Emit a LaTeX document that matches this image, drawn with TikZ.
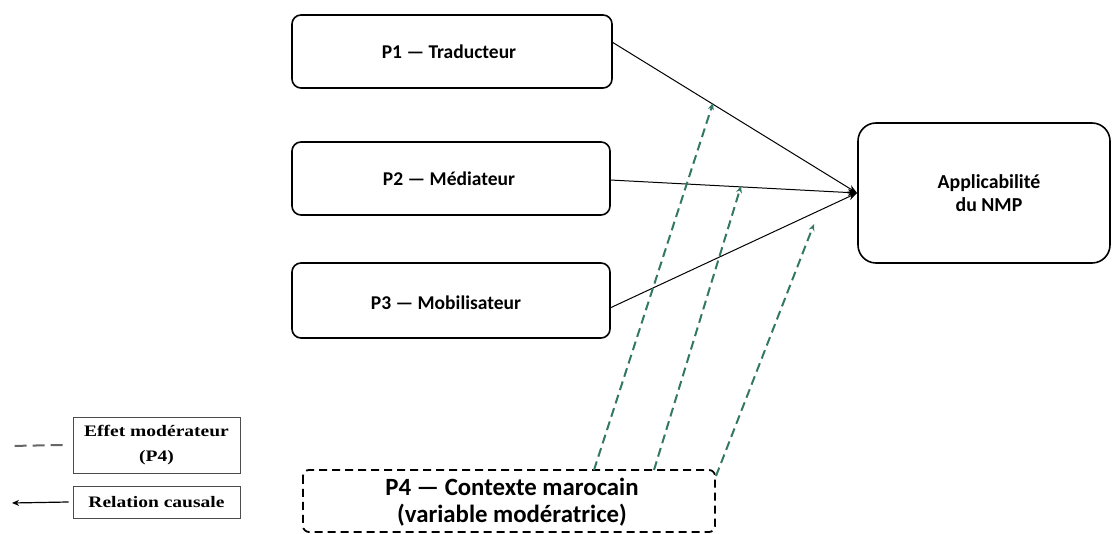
\documentclass[tikz,border=0pt]{standalone}
\usepackage{fontspec}
\setmainfont{Carlito}
\newfontfamily\legfont[FakeStretch=1.22]{Liberation Serif}
\usetikzlibrary{arrows.meta}
\definecolor{modgreen}{RGB}{50,120,100}
\begin{document}
\begin{tikzpicture}[x=1pt,y=1pt,
  box/.style={draw=black, line width=1.6pt, rounded corners=9pt, fill=white},
  boxtext/.style={font=\bfseries\fontsize{19.5}{22}\selectfont, align=center},
  legbox/.style={draw=black!70, line width=0.8pt, fill=white, font=\legfont\bfseries\fontsize{16}{25}\selectfont, align=center},
  causal/.style={draw=black, line width=1pt, -{Stealth[length=9pt,width=7pt]}},
  moder/.style={draw=modgreen, line width=2pt, dash pattern=on 9pt off 5pt, -{Stealth[length=7pt,width=6pt]}}
]
\useasboundingbox (0,0) rectangle (1112,-534);
\path[box] (292,-15) rectangle (612,-88);
\node[boxtext] (p1) at (449,-52) {P1 — Traducteur};
\coordinate (p1e) at (612,-42);
\path[box] (292,-142) rectangle (610,-215);
\node[boxtext] (p2) at (449,-179) {P2 — Médiateur};
\coordinate (p2e) at (610,-180);
\path[box] (292,-263) rectangle (610,-338);
\node[boxtext] (p3) at (446,-303) {P3 — Mobilisateur};
\coordinate (p3e) at (610,-308);
\path[box, rounded corners=18pt] (858,-123) rectangle (1110,-263);
\node[font=\bfseries\fontsize{19.8}{23}\selectfont, align=center] (nmp) at (989,-193) {Applicabilité\\du NMP};
\coordinate (nmpw) at (857,-193);
\path[draw=black, line width=1.8pt, dash pattern=on 8pt off 5pt, rounded corners=6pt] (303,-470) rectangle (715,-532);
\node[font=\bfseries\fontsize{24.8}{27}\selectfont, align=center] (p4) at (512,-502) {P4 — Contexte marocain\\(variable modératrice)};
\coordinate (m1s) at (594,-470);
\coordinate (m1e) at (713,-103);
\coordinate (m2s) at (654,-470);
\coordinate (m2e) at (741,-186);
\coordinate (m3s) at (716,-476);
\coordinate (m3e) at (814,-224);
\draw[causal] (p1e) -- (nmpw);
\draw[causal] (p2e) -- (nmpw);
\draw[causal] (p3e) -- (nmpw);
\draw[moder] (m1s) -- (m1e);
\draw[moder] (m2s) -- (m2e);
\draw[moder] (m3s) -- (m3e);
\node[legbox, minimum width=167pt, minimum height=56pt] (l1) at (156.5,-445) {Effet modérateur\\(P4)};
\node[legbox, minimum width=167pt, minimum height=32pt] (l2) at (156.5,-502) {Relation causale};
\coordinate (d1) at (10,-446);
\coordinate (a1) at (12,-503);
\draw[draw=black!60, line width=2pt, dash pattern=on 12pt off 6pt] (l1.west) ++(-10,0) coordinate (d2) (d2) -- (d1);
\draw[draw=black, line width=1.2pt, -{Stealth[length=7pt,width=6pt]}] (l2.west) ++(-4,0) coordinate (a2) (a2) -- (a1);
\end{tikzpicture}
\end{document}
